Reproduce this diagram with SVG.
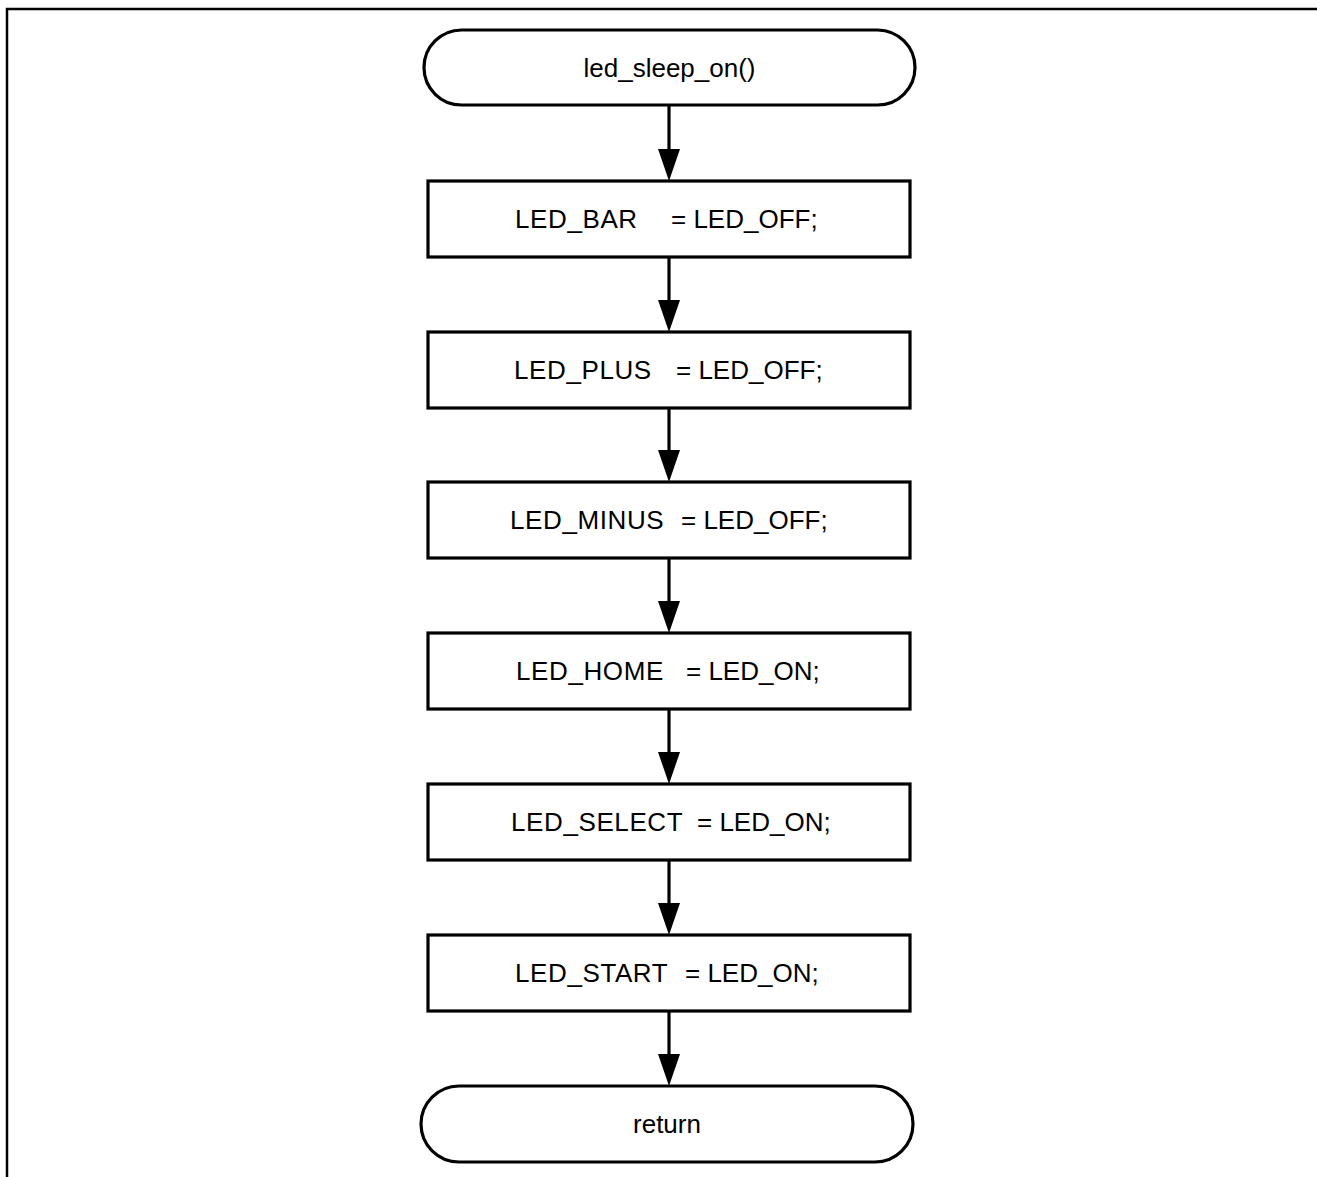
<svg xmlns="http://www.w3.org/2000/svg" width="1317" height="1177" viewBox="0 0 1317 1177">
<defs>
<style>
.frame{fill:none;stroke:#000;stroke-width:2.5}
.term{fill:#fff;stroke:#000;stroke-width:3.2}
.box{fill:#fff;stroke:#000;stroke-width:3.2}
.t{font-family:"Liberation Sans",Arial,sans-serif;font-size:26px;fill:#000}
.c{text-anchor:middle}
.n{letter-spacing:0.6px}
.conn{stroke:#000;stroke-width:3.2;fill:none}
</style>
</defs>
<rect width="1317" height="1177" fill="#fff"/>
<path class="frame" d="M7,1177 V9 H1317"/>
<g id="connectors">
<line class="conn" x1="669" y1="105" x2="669" y2="150"/><path d="M658,149 L680,149 L669,181 Z"/>
<line class="conn" x1="669" y1="257" x2="669" y2="301"/><path d="M658,300 L680,300 L669,332 Z"/>
<line class="conn" x1="669" y1="408" x2="669" y2="451"/><path d="M658,450 L680,450 L669,482 Z"/>
<line class="conn" x1="669" y1="558" x2="669" y2="602"/><path d="M658,601 L680,601 L669,633 Z"/>
<line class="conn" x1="669" y1="709" x2="669" y2="753"/><path d="M658,752 L680,752 L669,784 Z"/>
<line class="conn" x1="669" y1="860" x2="669" y2="904"/><path d="M658,903 L680,903 L669,935 Z"/>
<line class="conn" x1="669" y1="1011" x2="669" y2="1055"/><path d="M658,1054 L680,1054 L669,1086 Z"/>
</g>
<g id="start">
<rect class="term" x="424" y="30" width="491" height="75" rx="37.5"/>
<text class="t c" x="669.5" y="77">led_sleep_on()</text>
</g>
<g id="n1">
<rect class="box" x="428" y="181" width="482" height="76"/>
<text class="t" y="228"><tspan class="n" x="515">LED_BAR</tspan><tspan x="671">= LED_OFF;</tspan></text>
</g>
<g id="n2">
<rect class="box" x="428" y="332" width="482" height="76"/>
<text class="t" y="379"><tspan class="n" x="514">LED_PLUS</tspan><tspan x="676">= LED_OFF;</tspan></text>
</g>
<g id="n3">
<rect class="box" x="428" y="482" width="482" height="76"/>
<text class="t" y="529"><tspan class="n" x="510">LED_MINUS</tspan><tspan x="681">= LED_OFF;</tspan></text>
</g>
<g id="n4">
<rect class="box" x="428" y="633" width="482" height="76"/>
<text class="t" y="680"><tspan class="n" x="516">LED_HOME</tspan><tspan x="686">= LED_ON;</tspan></text>
</g>
<g id="n5">
<rect class="box" x="428" y="784" width="482" height="76"/>
<text class="t" y="831"><tspan class="n" x="511">LED_SELECT</tspan><tspan x="697">= LED_ON;</tspan></text>
</g>
<g id="n6">
<rect class="box" x="428" y="935" width="482" height="76"/>
<text class="t" y="982"><tspan class="n" x="515">LED_START</tspan><tspan x="685">= LED_ON;</tspan></text>
</g>
<g id="end">
<rect class="term" x="421" y="1086" width="492" height="76" rx="38"/>
<text class="t c" x="667" y="1133">return</text>
</g>
</svg>
